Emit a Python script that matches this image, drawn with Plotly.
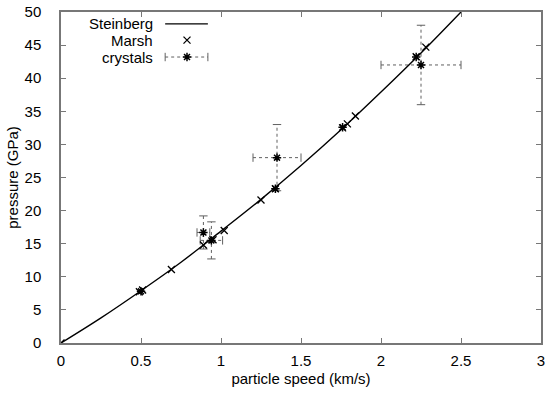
import plotly.graph_objects as go

# Steinberg curve
stein_u = [0, 0.25, 0.5, 0.75, 1.0, 1.25, 1.5, 1.75, 2.0, 2.25, 2.5]
stein_p = [0, 3.8, 7.9, 12.2, 16.9, 21.7, 26.8, 32.2, 37.9, 43.8, 50.0]

# Marsh data
marsh_u = [0, 0.49, 0.51, 0.69, 0.89, 0.95, 1.02, 1.25, 1.34, 1.76, 1.79, 1.84, 2.22, 2.28]
marsh_p = [0, 7.75, 8.0, 11.1, 14.8, 15.6, 17.0, 21.6, 23.3, 32.5, 33.1, 34.3, 43.25, 44.7]

# crystals with errors
cry_u = [0.50, 0.89, 0.94, 1.35, 1.34, 1.76, 2.22, 2.25]
cry_p = [7.8, 16.7, 15.5, 28.0, 23.3, 32.6, 43.2, 42.0]
cry_du = [0, 0.04, 0.07, 0.15, 0, 0, 0, 0.25]
cry_dp = [0, 2.5, 2.8, 5.0, 0, 0, 0, 6.0]

x_ticks = [0, 0.5, 1, 1.5, 2, 2.5, 3]
x_labels = ["0", "0.5", "1", "1.5", "2", "2.5", "3"]
y_ticks = list(range(0, 55, 5))

FONT = "Liberation Sans, Arial, sans-serif"
FS = 15
BAR = "#606060"

fig = go.Figure()

# error bars (dotted)
vx, vy, hx, hy = [], [], [], []
cap_v_x, cap_v_y, cap_h_x, cap_h_y = [], [], [], []
for u, p, du, dp in zip(cry_u, cry_p, cry_du, cry_dp):
    if dp > 0:
        vx += [u, u, None]
        vy += [p - dp, p + dp, None]
        cap_v_x += [u, u]
        cap_v_y += [p - dp, p + dp]
    if du > 0:
        hx += [u - du, u + du, None]
        hy += [p, p, None]
        cap_h_x += [u - du, u + du]
        cap_h_y += [p, p]

fig.add_trace(go.Scatter(x=vx + hx, y=vy + hy, mode="lines",
                         line=dict(color=BAR, width=1, dash="dot"),
                         showlegend=False, hoverinfo="skip"))
fig.add_trace(go.Scatter(x=cap_v_x, y=cap_v_y, mode="markers",
                         marker=dict(symbol="line-ew", size=6, color=BAR,
                                     line=dict(color=BAR, width=1)),
                         showlegend=False, hoverinfo="skip"))
fig.add_trace(go.Scatter(x=cap_h_x, y=cap_h_y, mode="markers",
                         marker=dict(symbol="line-ns", size=6, color=BAR,
                                     line=dict(color=BAR, width=1)),
                         showlegend=False, hoverinfo="skip"))

fig.add_trace(go.Scatter(x=stein_u, y=stein_p, mode="lines", line_shape="spline",
                         line=dict(color="black", width=1.4), showlegend=False))
fig.add_trace(go.Scatter(x=marsh_u, y=marsh_p, mode="markers",
                         marker=dict(symbol="x-thin-open", size=7, color="black",
                                     line=dict(color="black", width=1.3)),
                         showlegend=False))
fig.add_trace(go.Scatter(x=cry_u, y=cry_p, mode="markers",
                         marker=dict(symbol="asterisk-open", size=7, color="black",
                                     line=dict(color="black", width=1.5)),
                         showlegend=False))

# custom gnuplot-style key on overlay axes (0..1)
kx0, kx1, kxm = 0.217, 0.306, 0.2625
ky = [0.964, 0.915, 0.864]
fig.add_trace(go.Scatter(x=[kx0, kx1], y=[ky[0], ky[0]], mode="lines",
                         line=dict(color="black", width=1.4),
                         xaxis="x2", yaxis="y2", showlegend=False, hoverinfo="skip"))
fig.add_trace(go.Scatter(x=[kxm], y=[ky[1]], mode="markers",
                         marker=dict(symbol="x-thin-open", size=7, color="black",
                                     line=dict(color="black", width=1.3)),
                         xaxis="x2", yaxis="y2", showlegend=False, hoverinfo="skip"))
fig.add_trace(go.Scatter(x=[kx0, kx1], y=[ky[2], ky[2]], mode="lines",
                         line=dict(color=BAR, width=1, dash="dot"),
                         xaxis="x2", yaxis="y2", showlegend=False, hoverinfo="skip"))
fig.add_trace(go.Scatter(x=[kx0, kx1], y=[ky[2], ky[2]], mode="markers",
                         marker=dict(symbol="line-ns", size=6, color=BAR,
                                     line=dict(color=BAR, width=1)),
                         xaxis="x2", yaxis="y2", showlegend=False, hoverinfo="skip"))
fig.add_trace(go.Scatter(x=[kxm], y=[ky[2]], mode="markers",
                         marker=dict(symbol="asterisk-open", size=7, color="black",
                                     line=dict(color="black", width=1.5)),
                         xaxis="x2", yaxis="y2", showlegend=False, hoverinfo="skip"))

for name, yy in zip(["Steinberg", "Marsh", "crystals"], ky):
    fig.add_annotation(x=0.196, y=yy, xref="paper", yref="paper", text=name,
                       showarrow=False, xanchor="right", yanchor="middle",
                       font=dict(family=FONT, size=FS, color="black"))

axis_common = dict(showgrid=False, zeroline=False, showline=True, mirror="ticks",
                   linecolor="#777777", linewidth=1.5, ticks="inside", ticklen=5,
                   tickcolor="#777777", tickwidth=1,
                   tickfont=dict(family=FONT, size=FS, color="black"))

fig.update_layout(
    width=546, height=393,
    margin=dict(l=61, r=5, t=12, b=50, autoexpand=False),
    paper_bgcolor="white", plot_bgcolor="white",
    xaxis=dict(range=[0, 3], tickvals=x_ticks, ticktext=x_labels,
               ticklabelstandoff=3, automargin=False,
               title=dict(text="particle speed (km/s)", standoff=6,
                          font=dict(family=FONT, size=FS, color="black")),
               **axis_common),
    yaxis=dict(range=[0, 50], tickvals=y_ticks, ticklabelstandoff=15,
               automargin=False,
               title=dict(text="pressure (GPa)", standoff=2,
                          font=dict(family=FONT, size=FS, color="black")),
               **axis_common),
    xaxis2=dict(range=[0, 1], overlaying="x", visible=False, fixedrange=True),
    yaxis2=dict(range=[0, 1], overlaying="y", visible=False, fixedrange=True),
    showlegend=False,
)

fig.write_html("out.html")
